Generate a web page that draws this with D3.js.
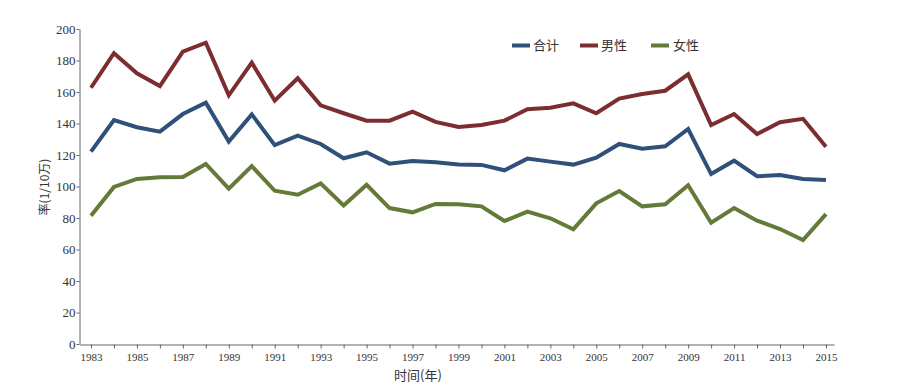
<!DOCTYPE html>
<html>
<head>
<meta charset="utf-8">
<script src="https://cdn.jsdelivr.net/npm/d3@7"></script>
<style>
  body { margin: 0; background: #fff; }
  .tick text { font-family: "Liberation Serif", "DejaVu Serif", serif; fill: #333; }
  .axis path, .axis line { stroke: #666; }
  .cjk { font-family: "Noto Sans CJK SC", sans-serif; fill: #333; }
</style>
</head>
<body>
<div class="chart"></div>
<script>
// years on the x axis
var years = d3.range(1983, 2016);

// 合计
var totalRate = [122.1, 142.2, 137.6, 134.8, 146.0, 153.2, 128.5, 145.8, 126.3, 132.3, 127.0,
  117.9, 121.7, 114.5, 116.2, 115.4, 113.9, 113.7, 110.3, 117.7, 115.8, 113.9, 118.3,
  127.0, 124.0, 125.5, 136.5, 107.9, 116.4, 106.5, 107.3, 104.8, 104.1];
// 男性
var maleRate = [162.7, 184.6, 171.9, 163.8, 185.6, 191.3, 157.9, 178.6, 154.5, 168.7, 151.5,
  146.5, 141.8, 141.8, 147.5, 141.0, 137.8, 139.0, 141.8, 149.0, 150.0, 152.8, 146.5,
  155.8, 158.7, 160.8, 171.2, 139.0, 146.0, 133.3, 140.8, 143.0, 125.3];
// 女性
var femaleRate = [81.5, 99.7, 104.8, 105.8, 106.0, 114.3, 98.6, 113.0, 97.3, 94.8, 102.0,
  88.0, 101.1, 86.3, 83.6, 88.9, 88.7, 87.4, 78.1, 84.0, 79.8, 72.8, 89.3,
  97.1, 87.4, 88.7, 100.8, 77.0, 86.3, 78.3, 73.0, 66.0, 82.5];

var seriesNames = ["合计", "男性", "女性"];
var seriesColors = ["#2f5078", "#7b2d30", "#647a38"];
var yTicks = d3.range(0, 201, 20);
var xLabelYears = years.filter(function(y) { return (y - 1983) % 2 === 0; });

var svgWidth = 908, svgHeight = 389;

var svg = d3.select(".chart").append("svg")
  .attr("width", svgWidth)
  .attr("height", svgHeight);

var xScale = d3.scaleLinear()
  .domain([1982.5, 2015.35])
  .range([79.5, 834]);

var yScale = d3.scaleLinear()
  .domain([0, 200])
  .range([344, 29]);

// x axis: a tick every year, labels every other year
var xAxis = d3.axisBottom(xScale)
  .tickValues(years)
  .tickSize(4)
  .tickSizeOuter(0)
  .tickFormat(function(d) { return xLabelYears.indexOf(d) >= 0 ? d : ""; });

svg.append("g")
  .attr("class", "axis")
  .attr("transform", "translate(0,344.5)")
  .call(xAxis)
  .call(function(g) {
    g.selectAll("text").attr("font-size", 11).attr("dy", "0.9em");
  });

var yAxis = d3.axisLeft(yScale)
  .tickValues(yTicks)
  .tickSize(3)
  .tickPadding(1)
  .tickSizeOuter(0);

svg.append("g")
  .attr("class", "axis")
  .attr("transform", "translate(79.5,0)")
  .call(yAxis)
  .call(function(g) {
    g.selectAll("text").attr("font-size", 13);
  });

// lines
var allSeries = [totalRate, maleRate, femaleRate];
var line = d3.line()
  .x(function(d, i) { return xScale(years[i]); })
  .y(function(d) { return yScale(d); });

allSeries.forEach(function(values, i) {
  svg.append("path")
    .datum(values)
    .attr("fill", "none")
    .attr("stroke", seriesColors[i])
    .attr("stroke-width", 4)
    .attr("stroke-linejoin", "miter")
    .attr("d", line);
});

// legend
var legendX = [512, 580, 651];
var legend = svg.append("g");
seriesNames.forEach(function(name, i) {
  legend.append("line")
    .attr("x1", legendX[i]).attr("x2", legendX[i] + 18)
    .attr("y1", 45.5).attr("y2", 45.5)
    .attr("stroke", seriesColors[i])
    .attr("stroke-width", 4);
  legend.append("text")
    .attr("class", "cjk")
    .attr("x", legendX[i] + (i === 2 ? 22 : 21))
    .attr("y", 50)
    .attr("font-size", 13)
    .text(name);
});

// axis titles
svg.append("text")
  .attr("class", "cjk")
  .attr("transform", "translate(49,187) rotate(-90)")
  .attr("text-anchor", "middle")
  .attr("font-size", 12)
  .text("率(1/10万)");

svg.append("text")
  .attr("class", "cjk")
  .attr("x", 418)
  .attr("y", 380)
  .attr("text-anchor", "middle")
  .attr("font-size", 13)
  .text("时间(年)");
</script>
</body>
</html>
